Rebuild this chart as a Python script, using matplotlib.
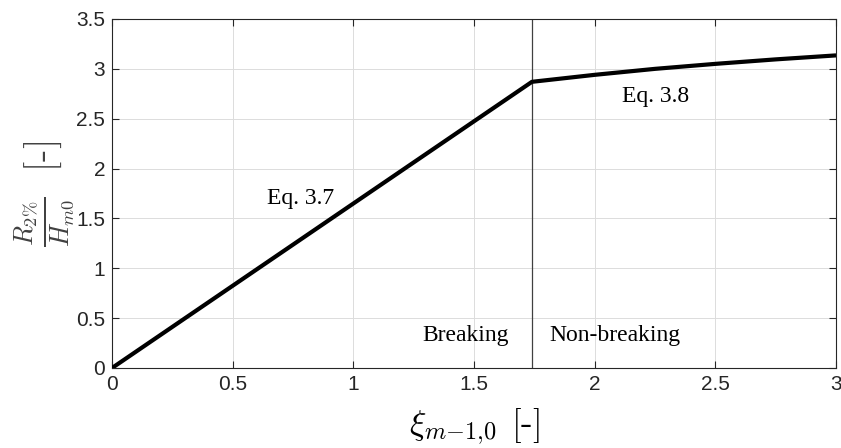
import matplotlib
matplotlib.use('Agg')
import matplotlib.pyplot as plt

plt.rcParams['mathtext.fontset'] = 'cm'
plt.rcParams['font.family'] = 'Liberation Sans'

# values
xi = [0.0, 1.74, 2.0, 2.25, 2.5, 2.75, 3.0]
runup = [0.0, 2.87, 2.94, 3.00, 3.05, 3.095, 3.135]
xi_limit = 1.74

fig = plt.figure(figsize=(8.41, 4.48), dpi=100)
ax = fig.add_axes([0.1332, 0.1786, 0.8609, 0.779])

ax.plot(xi, runup, color='k', lw=3, solid_capstyle='butt', zorder=3)
ax.axvline(xi_limit, color='#404040', lw=0.9, zorder=2)

ax.set_xlim(0, 3)
ax.set_ylim(0, 3.5)
ax.set_xticks([0, 0.5, 1, 1.5, 2, 2.5, 3])
ax.set_xticklabels(['0', '0.5', '1', '1.5', '2', '2.5', '3'])
ax.set_yticks([0, 0.5, 1, 1.5, 2, 2.5, 3, 3.5])
ax.set_yticklabels(['0', '0.5', '1', '1.5', '2', '2.5', '3', '3.5'])
ax.grid(True, color='#dcdcdc', lw=0.7)
ax.tick_params(direction='in', top=True, right=True, length=5, width=0.8,
               labelsize=15, colors='#262626', pad=5)
for s in ax.spines.values():
    s.set_color('#262626')
    s.set_linewidth(0.8)

ax.set_xlabel(r'$\xi_{m{-}1{,}0}\;\,[\text{-}]$', fontsize=25, labelpad=9)
ax.set_ylabel(r'$\frac{R_{2\%}}{H_{m0}}\ \ [\text{-}]$', fontsize=27, labelpad=-1, color='#404040')

serif = dict(family='Liberation Serif', fontsize=17, color='k')
ax.text(0.783, 1.70, 'Eq. 3.7', ha='center', va='center', **serif)
ax.text(2.254, 2.72, 'Eq. 3.8', ha='center', va='center', **serif)
ax.text(1.467, 0.33, 'Breaking', ha='center', va='center', **serif)
ax.text(2.084, 0.33, 'Non-breaking', ha='center', va='center', **serif)

fig.savefig('out.png', dpi=100)
